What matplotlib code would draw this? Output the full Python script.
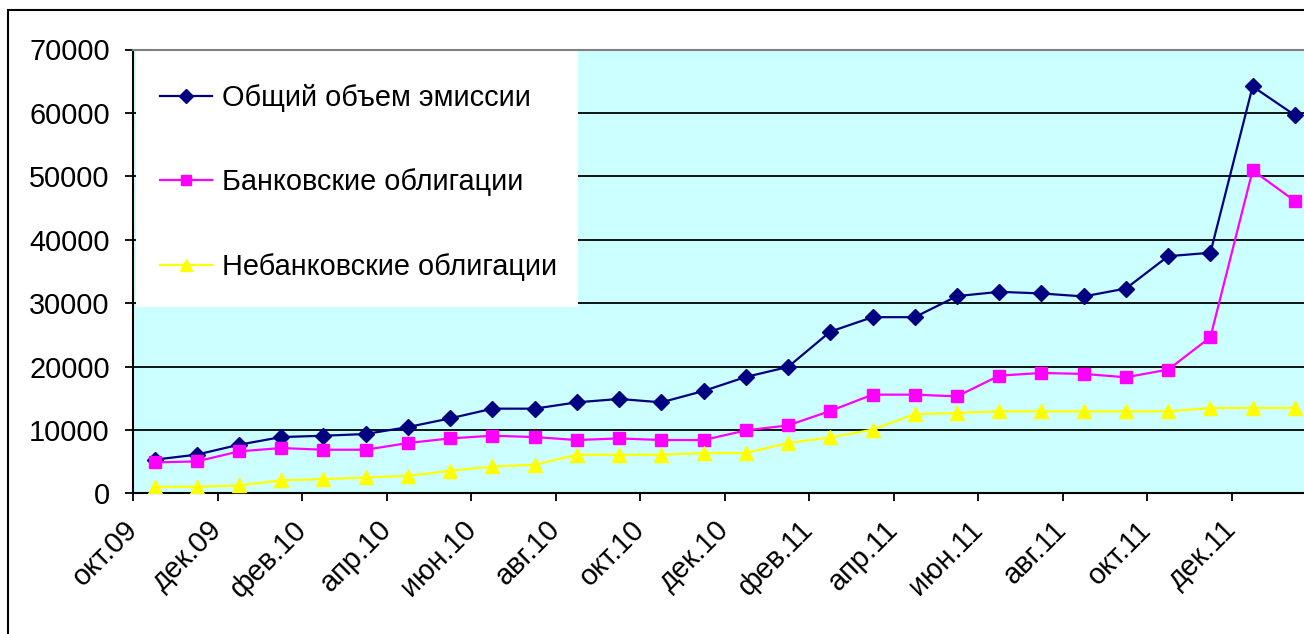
import matplotlib
matplotlib.use('Agg')
import matplotlib.pyplot as plt
from matplotlib.patches import Rectangle
from matplotlib.transforms import ScaledTranslation

plt.rcParams['font.family'] = ['Liberation Sans', 'DejaVu Sans']

# 28 monthly categories: окт.09 ... янв.12
months = ['окт.09', 'ноя.09', 'дек.09', 'янв.10', 'фев.10', 'мар.10', 'апр.10', 'май.10',
          'июн.10', 'июл.10', 'авг.10', 'сен.10', 'окт.10', 'ноя.10', 'дек.10', 'янв.11',
          'фев.11', 'мар.11', 'апр.11', 'май.11', 'июн.11', 'июл.11', 'авг.11', 'сен.11',
          'окт.11', 'ноя.11', 'дек.11', 'янв.12']
tick_labels = ['окт.09', 'дек.09', 'фев.10', 'апр.10', 'июн.10', 'авг.10', 'окт.10',
               'дек.10', 'фев.11', 'апр.11', 'июн.11', 'авг.11', 'окт.11', 'дек.11']

total = [5300, 6100, 7660, 8870, 9080, 9350, 10450, 11820, 13350, 13350, 14350, 14880,
         14350, 16140, 18350, 19930, 25500, 27780, 27780, 31100, 31780, 31520, 31050,
         32300, 37400, 37940, 64170, 59640]
bank = [4870, 5030, 6610, 7140, 6870, 6870, 7930, 8660, 9080, 8870, 8400, 8660, 8400,
        8400, 9920, 10710, 12990, 15560, 15560, 15290, 18560, 18980, 18830, 18300, 19510,
        24620, 50950, 46100]
nonbank = [1030, 1030, 1240, 2030, 2240, 2500, 2760, 3550, 4230, 4500, 6080, 6080, 6080,
           6350, 6350, 7930, 8820, 10030, 12510, 12670, 12930, 12930, 12930, 12930, 12930,
           13460, 13460, 13460]

series_names = ['Общий объем эмиссии', 'Банковские облигации', 'Небанковские облигации']

FS = 20.8
W, H = 1304, 634
fig = plt.figure(figsize=(W / 100, H / 100), dpi=100)
fig.patch.set_facecolor('white')

left_px, right_px, top_px, bottom_px = 133.4, 1316.0, 49.5, 493.3
ax = fig.add_axes([left_px / W, 1 - bottom_px / H, (right_px - left_px) / W,
                   (bottom_px - top_px) / H])
ax.set_facecolor('#CCFFFF')

x = list(range(len(months)))
ax.plot(x, total, color='#000080', lw=1.6, marker='D', ms=8, mec='#000080',
        mfc='#000080', label=series_names[0], zorder=3)
ax.plot(x, bank, color='#FF00FF', lw=1.6, marker='s', ms=9, mec='#FF00FF',
        mfc='#FF00FF', label=series_names[1], zorder=3)
ax.plot(x, nonbank, color='#FFFF00', lw=1.6, marker='^', ms=10.5, mec='#FFFF00',
        mfc='#FFFF00', label=series_names[2], zorder=3)

ax.set_xlim(-0.5, len(months) - 0.5)
ax.set_ylim(0, 70000)
ax.set_yticks(range(0, 70001, 10000))
ax.set_yticklabels([str(v) for v in range(0, 70001, 10000)], fontsize=FS)

tick_pos = [i - 0.5 for i in range(0, len(months), 2)]
ax.set_xticks(tick_pos)
ax.set_xticklabels(tick_labels, fontsize=FS, rotation=45, ha='right', va='center',
                   rotation_mode='anchor')
for lab in ax.get_xticklabels():
    lab.set_transform(lab.get_transform() + ScaledTranslation(0.15, 0, fig.dpi_scale_trans))

ax.tick_params(axis='y', direction='out', length=6, width=1.3, pad=11, colors='black')
ax.tick_params(axis='x', direction='out', length=6, width=1.3, pad=17, colors='black')

ax.yaxis.grid(True, color='black', lw=1.3)
ax.set_axisbelow(True)

for s in ['left', 'bottom']:
    ax.spines[s].set_color('black')
    ax.spines[s].set_linewidth(1.5)
ax.spines['top'].set_color('#808080')
ax.spines['top'].set_linewidth(1.5)
ax.spines['right'].set_visible(False)

# white legend panel
box_x1 = (578 - left_px) / (right_px - left_px)
box_y0 = (bottom_px - 306.7) / (bottom_px - top_px)
ax.add_patch(Rectangle((0.002, box_y0), box_x1 - 0.002, 0.996 - box_y0,
                       transform=ax.transAxes, facecolor='white', edgecolor='none',
                       zorder=1.5))

leg_x = (160 - left_px) / (right_px - left_px)
leg_y = (bottom_px - 84) / (bottom_px - top_px)
ax.legend(loc='upper left', bbox_to_anchor=(leg_x, leg_y), frameon=False, fontsize=FS,
          handlelength=1.8, handletextpad=0.35, labelspacing=1.95, borderaxespad=0,
          borderpad=0, markerscale=0.85)

# outer chart frame (cropped on right and bottom)
fig.add_artist(Rectangle((8 / W, -0.5), 2.0, (H - 10) / H + 0.5,
                         transform=fig.transFigure, fill=False, edgecolor='black',
                         lw=1.5, clip_on=False))

fig.savefig('out.png', dpi=100)
